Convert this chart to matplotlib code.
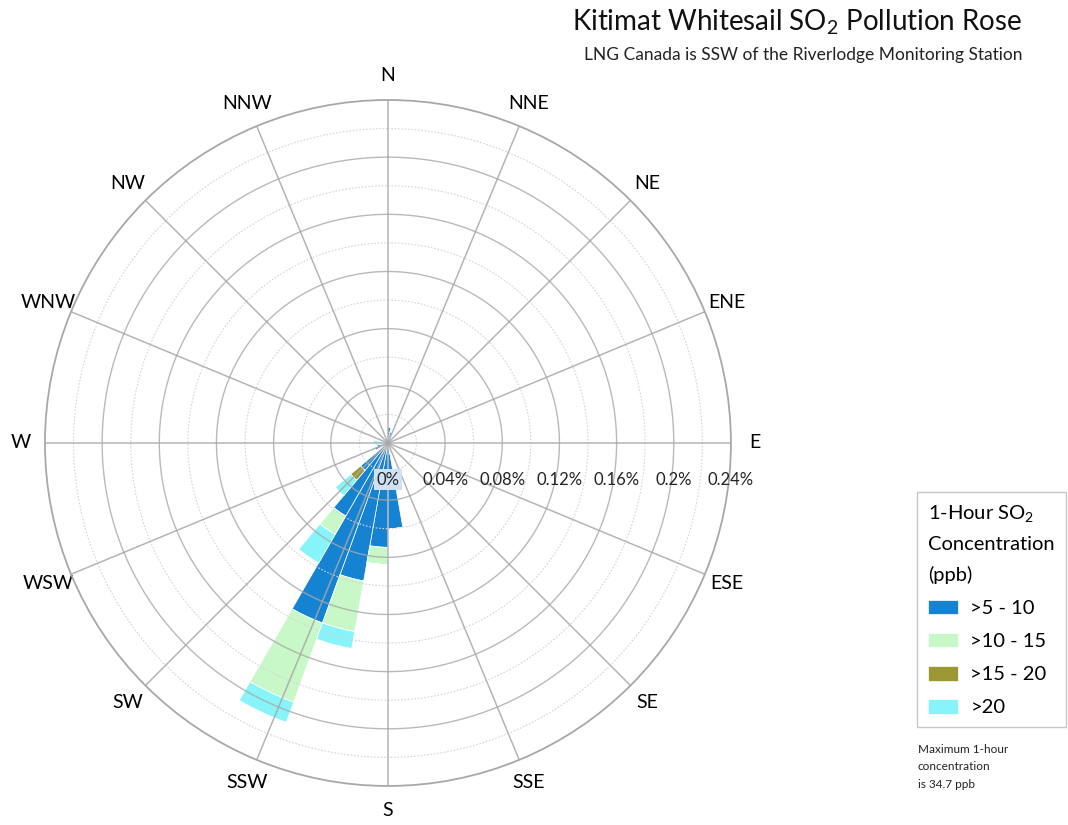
#!/usr/bin/env python3

import numpy as np
import matplotlib
matplotlib.use('Agg')
import matplotlib.pyplot as plt

plt.rcParams['font.family'] = ['Lato', 'DejaVu Sans']
plt.rcParams['mathtext.fontset'] = 'custom'
plt.rcParams['mathtext.rm'] = 'Lato'
plt.rcParams['mathtext.default'] = 'regular'

# 10-degree direction bins (bin centre, degrees from north) that carry data
directions = [5, 15, 165, 175, 185, 195, 205, 215, 225, 245, 255, 265, 275, 285]

# frequency (%) per concentration class, stacked
c5_10 = [0.011, 0.008, 0.0, 0.060, 0.073, 0.098, 0.134, 0.059, 0.025, 0.010, 0.008, 0.004, 0.0, 0.0]
c10_15 = [0.0, 0.0, 0.008, 0.0, 0.012, 0.036, 0.059, 0.015, 0.0, 0.0, 0.0, 0.0, 0.0, 0.0]
c15_20 = [0.0, 0.0, 0.0, 0.0, 0.0, 0.0, 0.0, 0.0, 0.009, 0.0, 0.0, 0.0, 0.0, 0.0]
c20 = [0.0, 0.0, 0.0, 0.0, 0.0, 0.012, 0.015, 0.023, 0.014, 0.0, 0.0, 0.005, 0.010, 0.006]

classes = ['>5 - 10', '>10 - 15', '>15 - 20', '>20']
colors = ['#1683d2', '#c8f7c8', '#9b9833', '#86f4f8']

compass = ['N', 'NNE', 'NE', 'ENE', 'E', 'ESE', 'SE', 'SSE',
           'S', 'SSW', 'SW', 'WSW', 'W', 'WNW', 'NW', 'NNW']
rticks = [0, 0.04, 0.08, 0.12, 0.16, 0.2, 0.24]
rlabels = ['0%', '0.04%', '0.08%', '0.12%', '0.16%', '0.2%', '0.24%']
rmax = 0.24

fig = plt.figure(figsize=(10.68, 8.25), dpi=100)
ax = fig.add_axes([0.0421, 0.0473, 0.6423, 0.8315], projection='polar')
ax.set_theta_zero_location('N')
ax.set_theta_direction(-1)

theta = np.radians(directions)
width = np.radians(10)
bottom = np.zeros(len(directions))
for vals, lab, col in zip([c5_10, c10_15, c15_20, c20], classes, colors):
    vals = np.array(vals)
    ax.bar(theta, vals, width=width, bottom=bottom, color=col, label=lab,
           edgecolor='white', linewidth=0.5, zorder=2)
    bottom = bottom + vals

ax.set_ylim(0, rmax)
ax.grid(False)
ax.set_yticks([])

# grid drawn on top of bars
circ = np.linspace(0, 2 * np.pi, 400)
for r in np.arange(0.02, rmax, 0.04):
    ax.plot(circ, np.full_like(circ, r), color='#d4d4d4', lw=0.8,
            ls=(0, (1.5, 1.5)), zorder=3)
for r in rticks[1:-1]:
    ax.plot(circ, np.full_like(circ, r), color='#a8a8a8', lw=1.0, alpha=0.8, zorder=3)
for a in np.arange(0, 360, 22.5):
    ax.plot([np.radians(a)] * 2, [0, rmax], color='#a8a8a8', lw=1.1, alpha=0.85, zorder=3)
ax.spines['polar'].set_color('#a8a8a8')
ax.spines['polar'].set_linewidth(1.3)

ax.set_xticks(np.radians(np.arange(0, 360, 22.5)))
ax.set_xticklabels(compass, fontsize=14)
ax.tick_params(axis='x', pad=7)

for r, lab in zip(rticks, rlabels):
    kw = {}
    if r == 0:
        kw['bbox'] = dict(boxstyle='square,pad=0.15', fc='#cfe2f3', ec='none')
    ax.annotate(lab, xy=(np.pi / 2, r), xytext=(0, -37), textcoords='offset pixels',
                ha='center', va='center', fontsize=12, color='#222222', zorder=5, **kw)

fig.text(0.957, 0.973, 'Kitimat Whitesail SO$_2$ Pollution Rose', ha='right', va='center',
         fontsize=20, color='#111111')
fig.text(0.957, 0.933, 'LNG Canada is SSW of the Riverlodge Monitoring Station',
         ha='right', va='center', fontsize=12.5, color='#222222')

leg = fig.legend(loc='upper left', bbox_to_anchor=(0.8586, 0.4036),
                 title='1-Hour SO$_2$\nConcentration\n(ppb)', fontsize=14.5,
                 title_fontsize=14.5, alignment='left', fancybox=False,
                 edgecolor='#c8c8c8', framealpha=1, handlelength=1.5,
                 handleheight=0.75, labelspacing=0.78, borderpad=0.55,
                 handletextpad=0.6, borderaxespad=0)
leg.get_frame().set_linewidth(1.0)
leg.get_title().set_linespacing(1.85)

fig.text(0.8595, 0.0985, 'Maximum 1-hour\nconcentration\nis 34.7 ppb', ha='left', va='top',
         fontsize=8.5, color='#222222', linespacing=1.75)

fig.savefig('out.png', dpi=100)
